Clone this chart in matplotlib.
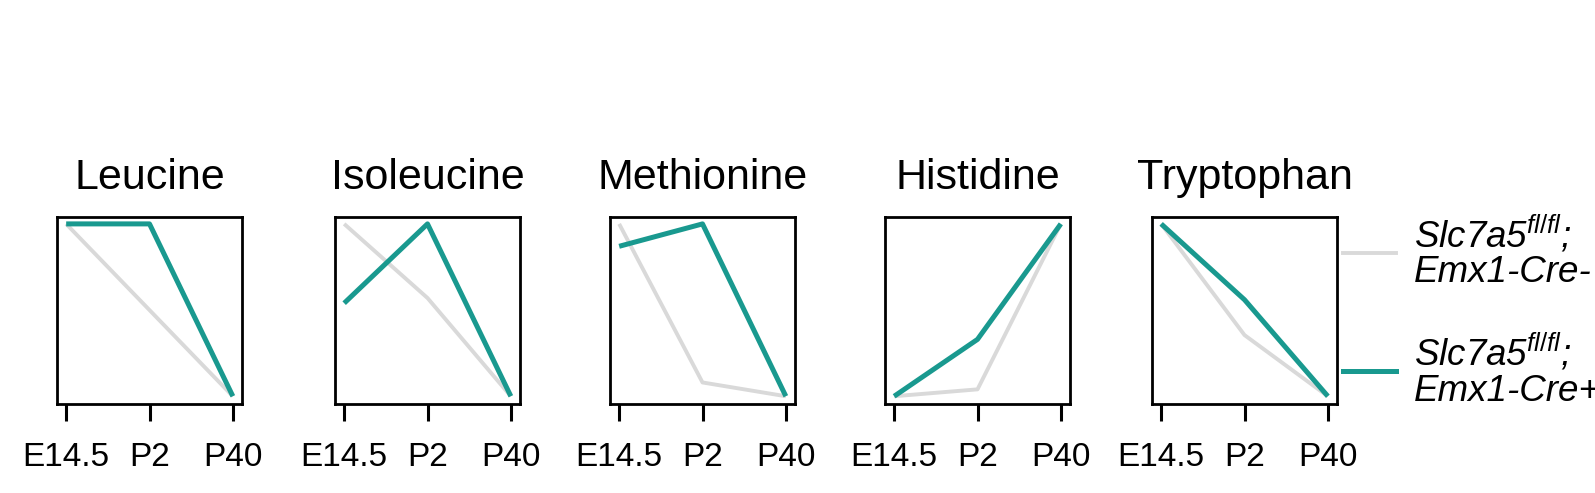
import numpy as np
import matplotlib
matplotlib.use("Agg")
import matplotlib.pyplot as plt
from matplotlib.lines import Line2D

plt.rcParams['font.family'] = ['Liberation Sans', 'DejaVu Sans']
plt.rcParams['mathtext.fontset'] = 'custom'
plt.rcParams['mathtext.it'] = 'Liberation Sans:italic'
plt.rcParams['mathtext.rm'] = 'Liberation Sans'

# данные (нормированные значения)
stages = ["E14.5", "P2", "P40"]
amino_acids = ["Leucine", "Isoleucine", "Methionine", "Histidine", "Tryptophan"]
control = [
    [1.0, 0.50, 0.0],
    [1.0, 0.57, 0.0],
    [1.0, 0.08, 0.0],
    [0.0, 0.04, 1.0],
    [1.0, 0.355, 0.0],
]
mutant = [
    [1.0, 1.0, 0.0],
    [0.54, 1.0, 0.0],
    [0.87, 1.0, 0.0],
    [0.0, 0.33, 1.0],
    [1.0, 0.56, 0.0],
]
labels = ["Slc7a5" + r"$^{\mathit{fl/fl}}$" + ";\nEmx1-Cre-",
          "Slc7a5" + r"$^{\mathit{fl/fl}}$" + ";\nEmx1-Cre+"]

gray = "#d9d9d9"
teal = "#19998f"

W, H = 1595, 493
fig = plt.figure(figsize=(W / 100, H / 100), dpi=100)

lefts = [57, 335, 610, 885, 1152]  # пиксели
x = np.arange(len(stages))
for i, name in enumerate(amino_acids):
    ax = fig.add_axes([lefts[i] / W, (H - 404) / H, 185 / W, 187 / H])
    ax.plot(x, control[i], color=gray, lw=2.8, solid_capstyle='butt')
    ax.plot(x, mutant[i], color=teal, lw=3.6, solid_capstyle='butt')
    ax.set_xlim(-0.11, 2.11)
    ax.set_ylim(-0.045, 1.04)
    ax.set_xticks(x)
    ax.set_xticklabels(stages, fontsize=24)
    ax.set_yticks([])
    ax.tick_params(axis='x', length=12, width=2.2, pad=15)
    for s in ax.spines.values():
        s.set_linewidth(2.0)
    ax.set_title(name, fontsize=31, pad=20)

handles = [Line2D([], [], color=gray, lw=2.8), Line2D([], [], color=teal, lw=3.6)]
leg = fig.legend(handles, labels, loc='upper left', bbox_to_anchor=(1343 / W, 1 - 214 / H),
                 frameon=False, borderaxespad=0, borderpad=0, handlelength=1.45,
                 handletextpad=0.48, labelspacing=1.15, prop={'size': 26.5, 'style': 'italic'})
for t in leg.get_texts():
    t.set_linespacing(1.0)

fig.savefig("out.png", dpi=100)
